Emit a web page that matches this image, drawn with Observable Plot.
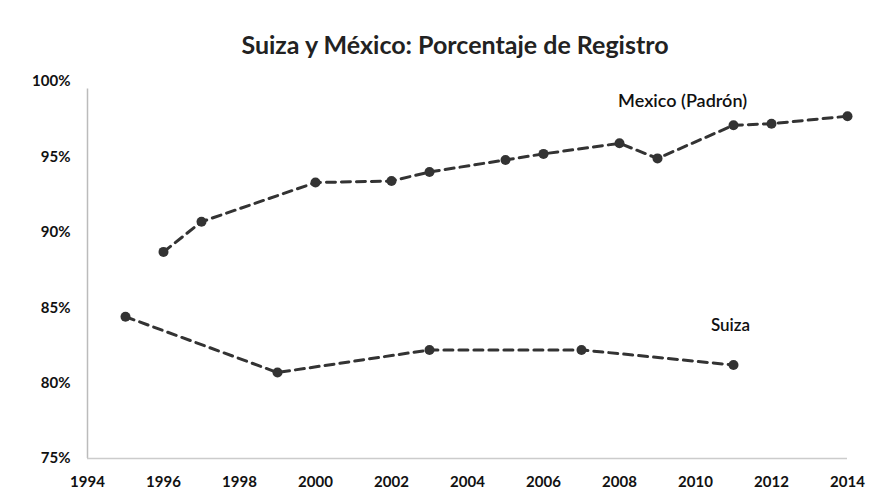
<!DOCTYPE html>
<html>
<head>
<meta charset="utf-8">
<script src="https://cdn.jsdelivr.net/npm/d3@7"></script>
<script src="https://cdn.jsdelivr.net/npm/@observablehq/plot@0.6"></script>
<style>
  html, body { margin: 0; padding: 0; background: #fff; }
  #wrap { position: relative; width: 884px; height: 500px; }
  #title { position: absolute; left: 0; width: 884px; top: 29px; text-align: center;
    font-family: Lato, "Open Sans", sans-serif; font-weight: 700; font-size: 25px; color: #222;
    padding-left: 26px; box-sizing: border-box; }
</style>
</head>
<body>
<div id="wrap">
  <div id="title">Suiza y México: Porcentaje de Registro</div>
  <div id="chart"></div>
</div>
<script>
const mexicoYears = [1996, 1997, 2000, 2002, 2003, 2005, 2006, 2008, 2009, 2011, 2012, 2014];
const mexicoValues = [88.7, 90.7, 93.3, 93.4, 94.0, 94.8, 95.2, 95.9, 94.9, 97.1, 97.2, 97.7];
const suizaYears = [1995, 1999, 2003, 2007, 2011];
const suizaValues = [84.4, 80.7, 82.2, 82.2, 81.2];
const xTicks = [1994, 1996, 1998, 2000, 2002, 2004, 2006, 2008, 2010, 2012, 2014];
const yTicks = [75, 80, 85, 90, 95, 100];
const seriesLabels = [
  {series: "Mexico (Padrón)", year: 2009.66, value: 98.7, size: 18},
  {series: "Suiza", year: 2010.92, value: 83.8, size: 17}
];

const mexico = mexicoYears.map((year, i) => ({series: "Mexico", year, value: mexicoValues[i]}));
const suiza = suizaYears.map((year, i) => ({series: "Suiza", year, value: suizaValues[i]}));
const all = mexico.concat(suiza);

const lineColor = "#333";

const chart = Plot.plot({
  width: 884,
  height: 500,
  marginLeft: 87,
  marginRight: 37,
  marginTop: 81,
  marginBottom: 42,
  style: {fontFamily: "Lato, 'Open Sans', sans-serif", fontSize: "15px", fontWeight: "bold", color: "#111", background: "#fff"},
  x: {domain: [1994, 2014], ticks: xTicks, tickFormat: d => String(d), tickSize: 0, tickPadding: 18, label: null},
  y: {domain: [75, 100], ticks: yTicks, tickFormat: d => d + "%", tickSize: 0, tickPadding: 17, label: null},
  marks: [
    Plot.ruleX([1994], {stroke: "#bbb", strokeWidth: 1.5, y1: 75, y2: 99.5}),
    Plot.ruleY([75], {stroke: "#ccc", strokeWidth: 1.5}),
    Plot.line(all, {x: "year", y: "value", z: "series", stroke: lineColor, strokeWidth: 3, strokeDasharray: "9,6"}),
    Plot.dot(all, {x: "year", y: "value", r: 5, fill: lineColor, stroke: "none"}),
    Plot.text(seriesLabels, {x: "year", y: "value", text: "series", fontSize: d => d.size, fontWeight: 600, fill: "#111"})
  ]
});
document.getElementById("chart").appendChild(chart);
</script>
</body>
</html>
